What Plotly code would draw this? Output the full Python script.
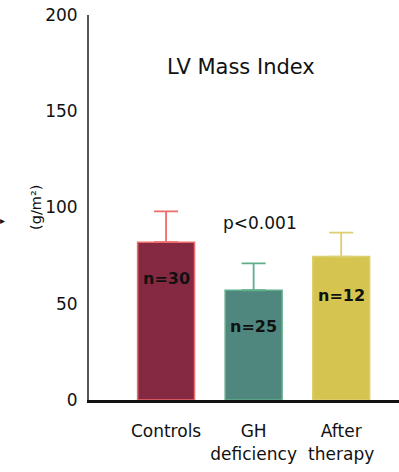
import plotly.graph_objects as go

categories = ["Controls", "GH<br>deficiency", "After<br>therapy"]
means = [82, 57, 74.5]
errors_plus = [16, 14, 12.5]
n_labels = ["n=30", "n=25", "n=12"]
n_label_y = [63, 38, 54.5]
fill_colors = ["#852943", "#4f877e", "#d5c450"]
edge_colors = ["#f06a6a", "#5fae8a", "#dccf72"]

FONT = "DejaVu Sans"

fig = go.Figure()
for i, cat in enumerate(categories):
    fig.add_trace(go.Bar(
        x=[i], y=[means[i]], width=0.65,
        marker=dict(color=fill_colors[i], line=dict(color=edge_colors[i], width=1.5)),
        error_y=dict(type="data", array=[errors_plus[i]], arrayminus=[0], symmetric=False,
                     color=edge_colors[i], thickness=1.8, width=12),
        showlegend=False, hoverinfo="skip",
    ))
    fig.add_annotation(x=i, y=n_label_y[i], text="<b>" + n_labels[i] + "</b>", showarrow=False,
                       font=dict(size=16, color="#111111", family=FONT),
                       xref="x", yref="y")

fig.add_annotation(x=1.07, y=92, text="p<0.001", showarrow=False,
                   font=dict(size=17, color="#111111", family=FONT), xref="x", yref="y")
fig.add_annotation(x=0.86, y=173, text="LV Mass Index", showarrow=False,
                   font=dict(size=21, color="#111111", family=FONT), xref="x", yref="y")
fig.add_annotation(x=-0.205, y=100, text="(g/m²)", showarrow=False, textangle=-90,
                   font=dict(size=14.5, color="#111111", family=FONT), xref="paper", yref="y")
fig.add_annotation(x=-0.295, y=93.5, text="▸", showarrow=False, xanchor="left",
                   font=dict(size=10, color="#111111", family=FONT), xref="paper", yref="y")

fig.update_layout(
    width=399, height=472,
    margin=dict(l=89, r=0, t=15, b=72),
    plot_bgcolor="white", paper_bgcolor="white",
    barmode="overlay",
    font=dict(family=FONT, color="#111111"),
    xaxis=dict(
        range=[-0.88, 2.66],
        tickmode="array", tickvals=[0, 1, 2], ticktext=categories,
        showline=True, linecolor="#111111", linewidth=3,
        showgrid=False, zeroline=False, ticks="",
        tickfont=dict(size=17, family=FONT, color="#111111"),
        ticklabelstandoff=14,
    ),
    yaxis=dict(
        range=[0, 200], tickvals=[0, 50, 100, 150, 200],
        showline=True, linecolor="#555555", linewidth=2,
        showgrid=False, zeroline=False, ticks="",
        tickfont=dict(size=17, family=FONT, color="#111111"),
        ticklabelstandoff=6,
    ),
)

fig.write_html("out.html")
